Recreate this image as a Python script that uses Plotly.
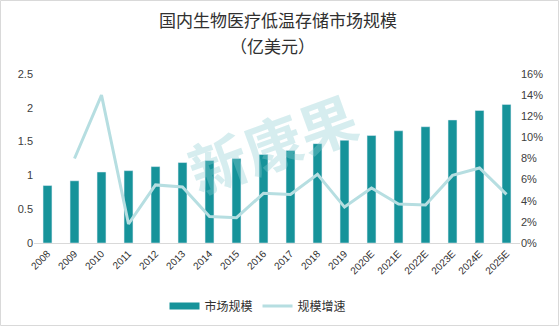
import plotly.graph_objects as go

years = ["2008", "2009", "2010", "2011", "2012", "2013", "2014", "2015", "2016",
         "2017", "2018", "2019", "2020E", "2021E", "2022E", "2023E", "2024E", "2025E"]
market_size = [0.85, 0.92, 1.05, 1.07, 1.13, 1.19, 1.22, 1.25, 1.31,
               1.37, 1.47, 1.52, 1.59, 1.66, 1.72, 1.82, 1.96, 2.05]
growth_pct = [None, 8.0, 14.0, 1.8, 5.5, 5.3, 2.5, 2.4, 4.7,
              4.6, 6.5, 3.4, 5.2, 3.7, 3.6, 6.4, 7.1, 4.6]
left_ticks = [0, 0.5, 1, 1.5, 2, 2.5]
left_ticklabels = ["0", "0.5", "1", "1.5", "2", "2.5"]
right_ticks = [0, 2, 4, 6, 8, 10, 12, 14, 16]
right_ticklabels = ["0%", "2%", "4%", "6%", "8%", "10%", "12%", "14%", "16%"]
title_line1 = "国内生物医疗低温存储市场规模"
title_line2 = "（亿美元）"

FONT = "Liberation Sans, Noto Sans CJK SC, sans-serif"
CJK = "Noto Sans CJK SC, sans-serif"
BAR = "#16939A"
LINE = "#B6DEE1"

fig = go.Figure()
fig.add_trace(go.Bar(x=years, y=market_size, name="市场规模", marker_color=BAR,
                     width=0.33, yaxis="y", showlegend=False))
fig.add_trace(go.Scatter(x=years, y=growth_pct, name="规模增速", mode="lines",
                         line=dict(color=LINE, width=3), yaxis="y2", showlegend=False))
# legend entries (wide swatches like the reference)
fig.add_trace(go.Scatter(x=[None], y=[None], name="市场规模", mode="lines",
                         line=dict(color=BAR, width=7), yaxis="y"))
fig.add_trace(go.Scatter(x=[None], y=[None], name="规模增速", mode="lines",
                         line=dict(color=LINE, width=3), yaxis="y2"))

L, R, T, B = 34, 39, 74, 83
W, H = 559, 326
pw, ph = W - L - R, H - T - B

def px2x(p):
    return (p - L) / pw

def px2y(p):
    return (H - B - p) / ph

fig.update_layout(
    width=W, height=H,
    margin=dict(l=L, r=R, t=T, b=B, autoexpand=False),
    paper_bgcolor="white", plot_bgcolor="white",
    font=dict(family=FONT, color="#404040", size=11),
    showlegend=True,
    legend=dict(orientation="h", x=px2x(258), xanchor="center", y=px2y(306), yanchor="middle",
                font=dict(family=CJK, size=12, color="#303030"),
                traceorder="normal", bgcolor="rgba(0,0,0,0)"),
    xaxis=dict(type="category", tickangle=-45, showline=True, linecolor="#D9D9D9",
               linewidth=1, ticks="", tickfont=dict(size=10, color="#303030"),
               showgrid=False, zeroline=False, range=[-0.5, 17.5], automargin=False),
    yaxis=dict(range=[0, 2.5], tickvals=left_ticks, ticktext=left_ticklabels,
               showgrid=False, zeroline=False, showline=False, ticks="",
               tickfont=dict(size=11, color="#404040"), automargin=False),
    yaxis2=dict(range=[0, 16], tickvals=right_ticks, ticktext=right_ticklabels,
                overlaying="y", side="right", showgrid=False, zeroline=False,
                showline=False, ticks="", tickfont=dict(size=11, color="#404040"),
                automargin=False),
)

fig.add_annotation(text=title_line1, xref="paper", yref="paper",
                   x=px2x(278), y=px2y(20), xanchor="center", yanchor="middle",
                   showarrow=False, font=dict(family=CJK, size=17, color="#303030"))
fig.add_annotation(text=title_line2, xref="paper", yref="paper",
                   x=px2x(272), y=px2y(45), xanchor="center", yanchor="middle",
                   showarrow=False, font=dict(family=CJK, size=17, color="#303030"))

fig.add_annotation(text="<b>新康果</b>", xref="paper", yref="paper",
                   x=px2x(272), y=px2y(142), xanchor="center", yanchor="middle",
                   showarrow=False, textangle=-20, opacity=0.35,
                   font=dict(family=CJK, size=58, color="#8CCDD2"))

fig.add_shape(type="rect", xref="paper", yref="paper",
              x0=px2x(0.5), x1=px2x(558.5), y0=px2y(325.5), y1=px2y(0.5),
              line=dict(color="#D9D9D9", width=1), layer="below")

fig.write_html("out.html")
